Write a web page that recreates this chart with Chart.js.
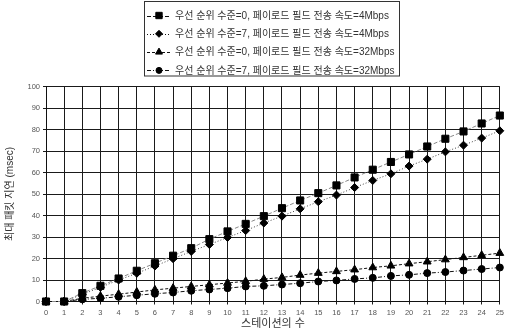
<!DOCTYPE html>
<html>
<head>
<meta charset="utf-8">
<script src="https://cdn.jsdelivr.net/npm/chart.js@4/dist/chart.umd.min.js"></script>
<style>
  html, body { margin: 0; padding: 0; background: #fff; }
  #wrap { width: 508px; height: 335px; }
</style>
</head>
<body>
<div id="wrap"><canvas id="delayChart"></canvas></div>
<script>
// 스테이션 수 (x축)
const stations = ['0','1','2','3','4','5','6','7','8','9','10','11','12','13','14','15','16','17','18','19','20','21','22','23','24','25'];

const seriesNames = [
    "우선 순위 수준=0, 페이로드 필드 전송 속도=4Mbps",
    "우선 순위 수준=7, 페이로드 필드 전송 속도=4Mbps",
    "우선 순위 수준=0, 페이로드 필드 전송 속도=32Mbps",
    "우선 순위 수준=7, 페이로드 필드 전송 속도=32Mbps"
];

// 최대 패킷 지연 (msec)
const p0_4M  = [0, 0, 3.9, 7.3, 10.7, 14.3, 17.8, 21.3, 24.8, 29, 32.6, 36.1, 39.7, 43.4, 47, 50.4, 54, 57.7, 61.3, 64.9, 68.4, 72.1, 75.7, 79.1, 82.8, 86.5];
const p7_4M  = [0, 0, 3.3, 6.6, 10, 13.1, 16.5, 19.9, 23.3, 26.5, 29.8, 33, 36.5, 39.7, 43.1, 46.4, 49.5, 53, 56.3, 59.4, 63, 66.2, 69.6, 72.7, 76, 79.4];
const p0_32M = [0, 0, 1.5, 2.5, 3.4, 4.4, 5.4, 6.2, 7, 7.8, 8.6, 9.4, 10.4, 11.2, 12.3, 13.2, 14, 14.8, 15.8, 16.6, 17.6, 18.5, 19.5, 20.5, 21.5, 22.5];
const p7_32M = [0, 0, 1, 1.5, 2.2, 2.9, 3.6, 4.2, 5, 5.6, 6.2, 7, 7.3, 7.9, 8.5, 9.3, 9.8, 10.5, 11, 11.9, 12.4, 13.2, 13.7, 14.4, 15.1, 15.8];

const yTicks = [0, 10, 20, 30, 40, 50, 60, 70, 80, 90, 100];

const tickFont = { family: '"Liberation Sans", Arial, sans-serif', size: 7.5 };
const korFont = '"Liberation Sans", "Noto Sans CJK KR", sans-serif';

// 테두리 있는 범례 (선 모양 + 마커)
const boxedLegend = {
    id: 'boxedLegend',
    afterDraw(chart) {
        const ctx = chart.ctx;
        const area = chart.chartArea;
        ctx.save();
        ctx.font = '10px ' + korFont;
        const textW = Math.max(...seriesNames.map(n => ctx.measureText(n).width));
        const sampleW = 24;
        const boxW = Math.round(3 + sampleW + 4 + textW + 5);
        const left = Math.round((area.left + area.right) / 2 - boxW / 2 - 1) + 0.5;
        const top = 1.5;
        const rowH = 18.3;
        const boxH = 74.5;
        ctx.strokeStyle = '#333';
        ctx.lineWidth = 1;
        ctx.setLineDash([]);
        ctx.strokeRect(left, top, boxW, boxH);

        chart.data.datasets.forEach((ds, i) => {
            const y = top + 14 + rowH * i;
            const x0 = left + 2.5;
            ctx.save();
            ctx.strokeStyle = '#111';
            ctx.lineWidth = 1;
            ctx.setLineDash(ds.borderDash || []);
            ctx.beginPath();
            ctx.moveTo(x0, Math.round(y) + 0.5);
            ctx.lineTo(x0 + sampleW, Math.round(y) + 0.5);
            ctx.stroke();
            ctx.setLineDash([]);
            ctx.fillStyle = '#000';
            ctx.strokeStyle = '#000';
            Chart.helpers.drawPoint(ctx, {
                pointStyle: ds.pointStyle,
                radius: ds.pointRadius - 0.5,
                rotation: 0,
                borderWidth: 1
            }, x0 + sampleW / 2, y);
            ctx.restore();

            ctx.fillStyle = '#333';
            ctx.textBaseline = 'middle';
            ctx.textAlign = 'left';
            ctx.fillText(seriesNames[i], x0 + sampleW + 4, y + 0.5);
        });
        ctx.restore();
    }
};

function series(label, data, style, radius, color, dash) {
    return {
        label: label,
        data: data,
        pointStyle: style,
        pointRadius: radius,
        pointHoverRadius: radius,
        pointBackgroundColor: '#000',
        pointBorderColor: '#000',
        pointBorderWidth: 1,
        borderColor: color,
        borderWidth: 1,
        borderDash: dash,
        fill: false,
        tension: 0,
        clip: false
    };
}

document.addEventListener("DOMContentLoaded", () => {
    const ctx = document.getElementById('delayChart').getContext('2d');
    new Chart(ctx, {
        type: 'line',
        data: {
            labels: stations,
            datasets: [
                series(seriesNames[0], p0_4M, 'rect', 5, '#888', [4, 2]),
                series(seriesNames[1], p7_4M, 'rectRot', 4, '#444', [1, 2]),
                series(seriesNames[2], p0_32M, 'triangle', 4.5, '#111', [3, 2]),
                series(seriesNames[3], p7_32M, 'circle', 3.5, '#111', [4, 2, 1, 2])
            ]
        },
        options: {
            responsive: true,
            maintainAspectRatio: false,
            animation: false,
            layout: { padding: { top: 86.5, right: 4, bottom: 0, left: 0 } },
            plugins: {
                legend: { display: false },
                tooltip: { enabled: false }
            },
            scales: {
                x: {
                    type: 'category',
                    offset: false,
                    afterFit: s => { s.height = 33.5; },
                    grid: { color: '#1a1a1a', lineWidth: 1, tickLength: 3, offset: false },
                    border: { color: '#111', width: 1 },
                    ticks: { color: '#555', font: tickFont, padding: 4, maxRotation: 0, autoSkip: false },
                    title: {
                        display: true,
                        text: '스테이션의 수',
                        color: '#333',
                        font: { family: korFont, size: 11 },
                        padding: { top: 0, bottom: 4 }
                    }
                },
                y: {
                    min: yTicks[0],
                    max: yTicks[yTicks.length - 1],
                    afterFit: s => { s.width = 46; },
                    afterBuildTicks: s => { s.ticks = yTicks.map(v => ({ value: v })); },
                    grid: { color: '#1a1a1a', lineWidth: 1, tickLength: 3 },
                    border: { color: '#111', width: 1 },
                    ticks: { color: '#555', font: tickFont, padding: 3 },
                    title: {
                        display: true,
                        text: '최대 패킷 지연 (msec)',
                        color: '#333',
                        font: { family: korFont, size: 10 },
                        padding: { top: 4, bottom: 0 }
                    }
                }
            }
        },
        plugins: [boxedLegend]
    });
});
</script>
</body>
</html>
